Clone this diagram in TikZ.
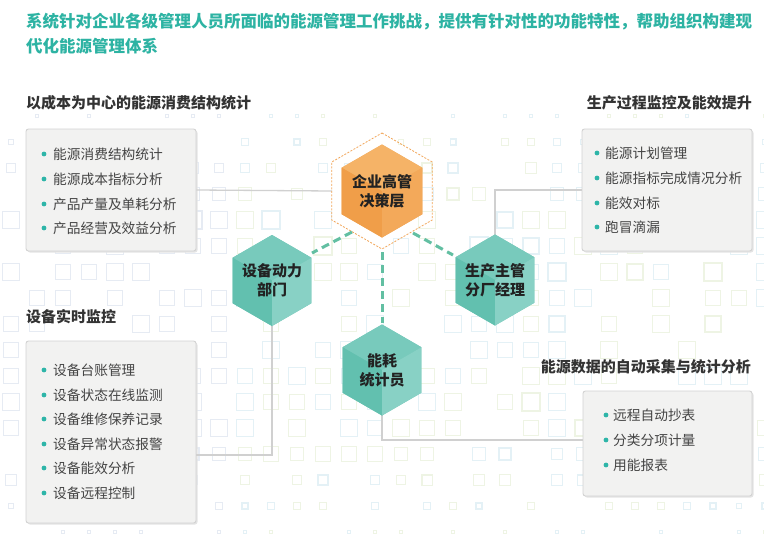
\documentclass[tikz,border=0pt]{standalone}
\usepackage{fontspec}
\setmainfont{Noto Sans CJK SC}
\usetikzlibrary{calc}
\definecolor{titleteal}{HTML}{2DB3A3}
\definecolor{headgray}{HTML}{333333}
\definecolor{itemgray}{HTML}{444444}
\definecolor{hexgray}{HTML}{222222}
\definecolor{boxfill}{HTML}{F2F2F1}
\definecolor{boxline}{HTML}{D2D2D2}
\definecolor{boxshadow}{HTML}{E4E4E4}
\definecolor{linegray}{HTML}{D0D0D0}
\definecolor{dashteal}{HTML}{62BFA2}
\definecolor{bullteal}{HTML}{2DB5A8}
\definecolor{tealbase}{HTML}{6CC5B5}
\definecolor{tealtop}{HTML}{78CABC}
\definecolor{tealleft}{HTML}{62C0AF}
\definecolor{tealright}{HTML}{88D1C5}
\definecolor{orbase}{HTML}{F2A553}
\definecolor{ortop}{HTML}{F5B367}
\definecolor{orleft}{HTML}{F09E49}
\definecolor{orright}{HTML}{F3A95A}
\definecolor{ordash}{HTML}{F2A65A}
\definecolor{bg0}{HTML}{E6EBF3}
\definecolor{bg1}{HTML}{E4F1F6}
\definecolor{bg2}{HTML}{EEF4E4}
\tikzset{
 boxst/.style={draw=boxline, fill=boxfill, rounded corners=2.5pt, line width=0.9pt, inner sep=0pt},
 shadowst/.style={fill=boxshadow, rounded corners=2.5pt},
 itemst/.style={anchor=west, inner sep=0pt, text=itemgray, font=\fontsize{13.7}{16}\selectfont},
 headst/.style={inner sep=0pt, text=headgray, font=\bfseries\fontsize{15}{18}\selectfont},
 titlest/.style={anchor=west, inner sep=0pt, text=titleteal, font=\bfseries\fontsize{16.5}{20}\selectfont},
 hextext/.style={inner sep=0pt, align=center, text=hexgray, font=\bfseries\fontsize{15}{19}\selectfont},
 link/.style={draw=linegray, line width=1.3pt},
 dlink/.style={draw=dashteal, line width=3pt, dash pattern=on 8pt off 5pt},
 bgsq/.style={line width=1.1pt},
}
\newcommand\hexcell[9]{%
 \begin{scope}[shift={(#2,#3)}]
  \pgfmathsetmacro\hxw{0.8660254*#4}
  \pgfmathsetmacro\hxr{0.5*#4}
  \fill[#5] (0,-#4) -- (\hxw,-\hxr) -- (\hxw,\hxr) -- (0,#4) -- (-\hxw,\hxr) -- (-\hxw,-\hxr) -- cycle;
  \fill[#6] (0,-#4) -- (\hxw,-\hxr) -- (0,0) -- (-\hxw,-\hxr) -- cycle;
  \fill[#7] (-\hxw,-\hxr) -- (0,0) -- (0,#4) -- (-\hxw,\hxr) -- cycle;
  \fill[#8] (\hxw,-\hxr) -- (\hxw,\hxr) -- (0,#4) -- (0,0) -- cycle;
  \node[hextext] (#1) at (0,0) {#9};
 \end{scope}}
\begin{document}
\begin{tikzpicture}[x=1pt,y=-1pt]
\useasboundingbox (0,0) rectangle (764,549);
\fill[white] (0,0) rectangle (764,549);
% background squares
\pgfmathsetseed{2024}
\foreach \i in {0,...,29}{
 \foreach \j in {0,...,16}{
  \pgfmathsetmacro\cx{11+26*\i}
  \pgfmathsetmacro\cy{116+26*\j}
  \pgfmathsetmacro\g{(\cy<220) ? max(0.22,(\cy-95)/125) : ((\cy>428) ? max(0.2,1-(\cy-428)/130) : 1)}
  \pgfmathsetmacro\s{9*\g*(0.8+0.2*rnd)}
  \pgfmathsetmacro\keep{rnd}
  \pgfmathtruncatemacro\ci{(\i<9) ? 0 : ((rnd<0.5) ? 1 : 2)}
  \ifdim\keep pt<0.7pt
   \draw[bgsq, draw=bg\ci] ({\cx-\s},{\cy-\s}) rectangle ({\cx+\s},{\cy+\s});
  \fi
 }}
% title
\node[titlest] (t1) at (26,22) {系统针对企业各级管理人员所面临的能源管理工作挑战，提供有针对性的功能特性，帮助组织构建现};
\node[titlest] (t2) at (26,46) {代化能源管理体系};
% headers
\node[headst, anchor=west] (hd1) at (26,103) {以成本为中心的能源消费结构统计};
\node[headst, anchor=east] (hd2) at (752,103) {生产过程监控及能效提升};
\node[headst, anchor=west] (hd3) at (26,317) {设备实时监控};
\node[headst, anchor=east] (hd4) at (751,367) {能源数据的自动采集与统计分析};
% connector end points
\coordinate (ow) at (332,191);
\coordinate (h3t) at (495,235);
\coordinate (h2b) at (272,326);
\coordinate (h4b) at (382,415);
\coordinate (c3) at (196,455);
\coordinate (c4) at (583,440);
% boxes
\fill[shadowst] (27.5,130.5) rectangle (197.5,252.5);
\node[boxst, minimum width=170pt, minimum height=122pt] (b1) at (111,190) {};
\fill[shadowst] (583.5,130.5) rectangle (753.5,252.5);
\node[boxst, minimum width=170pt, minimum height=122pt] (b2) at (667,190) {};
\fill[shadowst] (27.5,342.5) rectangle (197.5,524.5);
\node[boxst, minimum width=170pt, minimum height=182pt] (b3) at (111,432) {};
\fill[shadowst] (584.5,392.5) rectangle (753.5,497.5);
\node[boxst, minimum width=169pt, minimum height=105pt] (b4) at (667.5,443.5) {};
\draw[link] (b1.east) -- (ow);
\draw[link] (b2.west) -| (h3t);
\draw[link] (h2b) |- (c3);
\draw[link] (h4b) |- (c4);
% items
\foreach \t/\y [count=\k] in {能源消费结构统计/154, 能源成本指标分析/179, 产品产量及单耗分析/204, 产品经营及效益分析/228}{
 \fill[bullteal] (44,\y) circle (2.4pt);
 \node[itemst] (i1-\k) at (53,\y) {\t};}
\foreach \t/\y [count=\k] in {能源计划管理/153, 能源指标完成情况分析/178, 能效对标/203, 跑冒滴漏/227}{
 \fill[bullteal] (597,\y) circle (2.4pt);
 \node[itemst] (i2-\k) at (605,\y) {\t};}
\foreach \t/\y [count=\k] in {设备台账管理/370, 设备状态在线监测/395, 设备维修保养记录/419, 设备异常状态报警/444, 设备能效分析/468, 设备远程控制/493}{
 \fill[bullteal] (44,\y) circle (2.4pt);
 \node[itemst] (i3-\k) at (53,\y) {\t};}
\foreach \t/\y [count=\k] in {远程自动抄表/415, 分类分项计量/440, 用能报表/465}{
 \fill[bullteal] (606,\y) circle (2.4pt);
 \node[itemst] (i4-\k) at (613,\y) {\t};}
% dashed outer hexagon
\draw[ordash, line width=0.8pt, dash pattern=on 2pt off 1.5pt]
 (382,133) -- (432.2,162) -- (432.2,220) -- (382,249) -- (331.8,220) -- (331.8,162) -- cycle;
% dashed teal connectors
\coordinate (d1s) at (352,232);
\coordinate (d1e) at (312,253);
\coordinate (d2s) at (413,233);
\coordinate (d2e) at (453,255);
\coordinate (d3s) at (382,252);
\coordinate (d3e) at (382,323);
\draw[dlink] (d1s) -- (d1e);
\draw[dlink] (d2s) -- (d2e);
\draw[dlink] (d3s) -- (d3e);
% hexagons
\hexcell{h1}{382}{191}{46.5}{orbase}{ortop}{orleft}{orright}{企业高管\\决策层}
\hexcell{h2}{272}{280.5}{45.5}{tealbase}{tealtop}{tealleft}{tealright}{\raisebox{-4pt}{\parbox{70pt}{\centering 设备动力\\部门}}}
\hexcell{h3}{495}{280}{45.5}{tealbase}{tealtop}{tealleft}{tealright}{生产主管\\分厂经理}
\hexcell{h4}{382}{370}{45.5}{tealbase}{tealtop}{tealleft}{tealright}{能耗\\统计员}
\end{tikzpicture}
\end{document}
